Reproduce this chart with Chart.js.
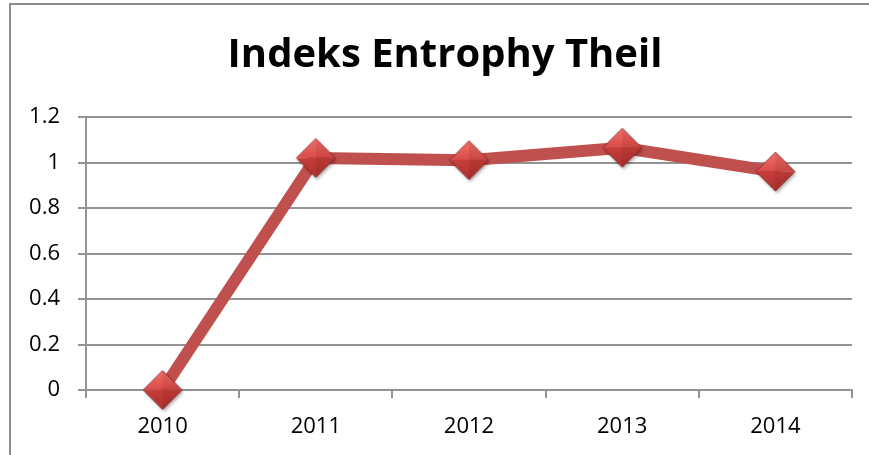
<!DOCTYPE html>
<html>
<head>
<meta charset="utf-8">
<script src="https://cdn.jsdelivr.net/npm/chart.js@4"></script>
<style>
    html, body { margin: 0; padding: 0; background: #fff; overflow: hidden; }
    #wrap { position: relative; width: 869px; height: 455px; }
    #frame {
        position: absolute; left: 9px; top: 3px; width: 900px; height: 500px;
        border: 2px solid #8c8c8c; box-sizing: border-box;
    }
    #chart { position: absolute; left: 0; top: 0; }
</style>
</head>
<body>
<div id="wrap">
    <div id="frame"></div>
    <canvas id="chart" width="869" height="455"></canvas>
</div>
<script>
// Theil entropy index by year
const years = ['2010', '2011', '2012', '2013', '2014'];
const theilValues = [0, 1.02, 1.01, 1.065, 0.96];
const yMin = 0;
const yMax = 1.2;
const yStep = 0.2;

const TITLE = 'Indeks Entrophy Theil';
const LINE_COLOR = '#C0504D';
const GRID_COLOR = '#939393';
const FONT = '"Open Sans", sans-serif';

// Shaded diamond marker, drawn once and reused for every point
function makeDiamond(r) {
    const size = 2 * r + 10;
    const c = document.createElement('canvas');
    c.width = size;
    c.height = size;
    const g = c.getContext('2d');
    const cx = size / 2, cy = size / 2;

    const path = (ox, oy) => {
        g.beginPath();
        g.moveTo(cx + ox, cy - r + oy);
        g.lineTo(cx + r + ox, cy + oy);
        g.lineTo(cx + ox, cy + r + oy);
        g.lineTo(cx - r + ox, cy + oy);
        g.closePath();
    };

    // soft shadow
    g.save();
    g.filter = 'blur(1.5px)';
    g.fillStyle = 'rgba(0,0,0,0.28)';
    path(1.5, 2.5);
    g.fill();
    g.restore();

    // top half
    let grad = g.createLinearGradient(0, cy - r, 0, cy);
    grad.addColorStop(0, '#F2716B');
    grad.addColorStop(1, '#D84C48');
    g.fillStyle = grad;
    g.beginPath();
    g.moveTo(cx, cy - r);
    g.lineTo(cx + r, cy);
    g.lineTo(cx - r, cy);
    g.closePath();
    g.fill();

    // bottom half
    grad = g.createLinearGradient(0, cy, 0, cy + r);
    grad.addColorStop(0, '#C63E3B');
    grad.addColorStop(1, '#AA312E');
    g.fillStyle = grad;
    g.beginPath();
    g.moveTo(cx - r, cy);
    g.lineTo(cx + r, cy);
    g.lineTo(cx, cy + r);
    g.closePath();
    g.fill();

    // right side slightly darker
    g.fillStyle = 'rgba(90,10,10,0.10)';
    g.beginPath();
    g.moveTo(cx, cy - r);
    g.lineTo(cx + r, cy);
    g.lineTo(cx, cy + r);
    g.closePath();
    g.fill();

    g.strokeStyle = 'rgba(120,30,28,0.75)';
    g.lineWidth = 1;
    path(0, 0);
    g.stroke();
    return c;
}

const marker = makeDiamond(19.5);

// centre the title a little right of the canvas middle
const titleShift = {
    id: 'titleShift',
    afterLayout(chart) {
        if (chart.titleBlock) {
            chart.titleBlock.left = 38;
        }
    }
};

new Chart(document.getElementById('chart'), {
    type: 'line',
    data: {
        labels: years,
        datasets: [{
            label: TITLE,
            data: theilValues,
            borderColor: LINE_COLOR,
            backgroundColor: LINE_COLOR,
            borderWidth: 12,
            borderCapStyle: 'round',
            borderJoinStyle: 'round',
            tension: 0,
            clip: false,
            pointStyle: marker,
            pointRadius: 19
        }]
    },
    plugins: [titleShift],
    options: {
        responsive: false,
        animation: false,
        events: [],
        layout: {
            autoPadding: false,
            padding: { left: 0, right: 17, top: 0, bottom: 0 }
        },
        plugins: {
            legend: { display: false },
            tooltip: { enabled: false },
            title: {
                display: true,
                text: TITLE,
                color: '#000',
                font: { family: FONT, size: 40, weight: 'bold', lineHeight: 1.2 },
                padding: { top: 31.5, bottom: 37.5 }
            }
        },
        scales: {
            x: {
                offset: true,
                grid: {
                    offset: true,
                    drawOnChartArea: false,
                    drawTicks: true,
                    tickLength: 8,
                    color: GRID_COLOR,
                    lineWidth: 2
                },
                border: { color: GRID_COLOR, width: 2 },
                ticks: {
                    color: '#000',
                    padding: 16,
                    font: { family: FONT, size: 22 },
                    maxRotation: 0
                },
                afterFit: (scale) => { scale.height = 65; }
            },
            y: {
                min: yMin,
                max: yMax,
                grid: {
                    color: GRID_COLOR,
                    lineWidth: 2,
                    tickLength: 8
                },
                border: { color: GRID_COLOR, width: 2 },
                ticks: {
                    stepSize: yStep,
                    color: '#000',
                    padding: 18,
                    font: { family: FONT, size: 22 },
                    callback: (v) => String(Number(v.toFixed(1)))
                },
                afterFit: (scale) => { scale.width = 86; }
            }
        }
    }
});
</script>
</body>
</html>
